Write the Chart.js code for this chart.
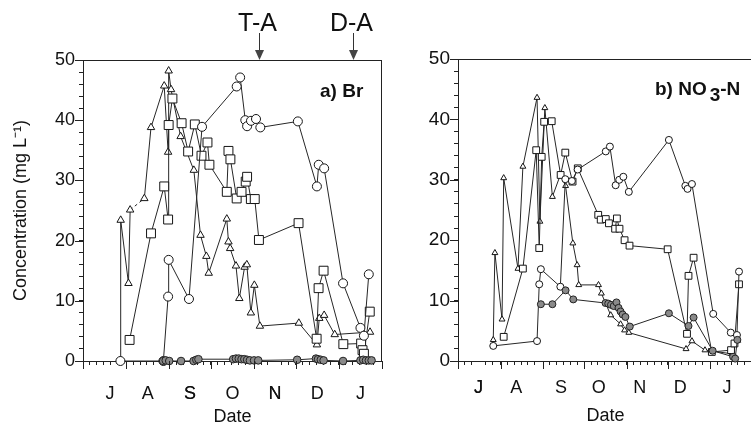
<!DOCTYPE html>
<html>
<head>
<meta charset="utf-8">
<script src="https://cdn.jsdelivr.net/npm/chart.js@4.4.1/dist/chart.umd.min.js"></script>
<style>
  html, body { margin: 0; padding: 0; background: #fff; overflow: hidden; width: 751px; height: 429px; }
  .panel { position: absolute; top: 0; }
  #panelA { left: 0; }
  #panelB { left: 400px; }
</style>
</head>
<body>
<canvas id="panelA" class="panel" width="400" height="429"></canvas>
<canvas id="panelB" class="panel" width="365" height="429"></canvas>
<script>
const FONT = '"Liberation Sans", Arial, Helvetica, sans-serif';

// Calendar axis: day 0 = 1 July, month boundaries up to 1 February
const monthStartDays = [0, 31, 62, 92, 123, 153, 184, 215];
const monthLetters = ['J', 'A', 'S', 'O', 'N', 'D', 'J'];
const brMonthLabelDays = [19.5, 46.5, 77, 107.5, 138, 168.5, 199.5];
const noMonthLabelDays = [15, 42.5, 75, 102.5, 132.5, 162, 196];
const yLabelValues = [0, 10, 20, 30, 40, 50];

// Events marked above panel a
const eventNames = ['T-A', 'D-A'];
const eventDays = [126.7, 194.3];

// ---- a) Br (mg/L) ----
const brTriDays = [26.8, 27.1, 32.7, 33.9, 44.1, 48.9, 58.4, 61.2, 61.6, 63.3, 70.2, 79.7, 84.5, 88.7, 90.4, 103.4, 104.6, 105.8, 110, 112.4, 116.2, 117.8, 120.7, 123.2, 127.2, 155.2, 168.2, 169.9, 173.4, 181, 206.4];
const brTriVals = [0, 23.4, 12.9, 25.1, 27.0, 38.8, 45.7, 34.7, 48.2, 45.1, 37.3, 31.7, 20.9, 17.4, 14.6, 23.6, 19.8, 18.7, 15.8, 10.4, 15.6, 16.0, 8.0, 12.6, 5.8, 6.3, 2.7, 7.1, 7.6, 4.4, 4.8];

const brSqDays = [33.5, 48.9, 58.4, 61.2, 61.6, 64.3, 70.9, 75.6, 80.4, 85.2, 89.5, 90.9, 103.4, 104.6, 106, 110.5, 114, 117, 118, 120.7, 123.5, 126.5, 155, 168, 169.4, 173, 187.2, 200, 201, 202, 206.2];
const brSqVals = [3.5, 21.2, 29.0, 23.5, 39.2, 43.6, 39.5, 34.8, 39.3, 34.1, 36.3, 32.6, 28.1, 34.9, 33.5, 27.0, 28.1, 29.8, 30.6, 26.9, 26.9, 20.1, 22.9, 3.7, 12.1, 15.0, 2.8, 2.9, 1.8, 1.2, 8.2];

const brCircDays = [26.9, 57.8, 61.2, 61.6, 76.2, 85.6, 110.5, 113, 116.7, 118, 120.8, 124.4, 127.5, 154.5, 168.2, 169.5, 173.4, 187, 199.5, 202, 205.5];
const brCircVals = [0, 0, 10.7, 16.8, 10.3, 38.9, 45.6, 47.1, 40.0, 39.0, 39.9, 40.2, 38.8, 39.8, 29.0, 32.6, 32.0, 12.9, 5.5, 4.2, 14.4];

const brFillDays = [57.6, 59.5, 62, 70.5, 79.5, 81.5, 83, 108, 110, 112, 114, 116, 118, 120, 123, 126, 154, 167.5, 169, 171, 173, 187, 199.5, 201.5, 203.5, 205.5, 207.5];
const brFillVals = [0, 0.1, 0, 0, 0, 0.2, 0.3, 0.3, 0.4, 0.4, 0.3, 0.3, 0.2, 0.1, 0.1, 0.1, 0.2, 0.4, 0.3, 0.2, 0.1, 0, 0.1, 0.2, 0.1, 0.1, 0.1];

// ---- b) NO3-N (mg/L) ----
const noTriDays = [25.7, 26.9, 32.1, 33.3, 43.7, 47.3, 57.6, 59.7, 63.3, 68.8, 74.6, 78.4, 83.7, 86.8, 88, 102.4, 104.5, 111.3, 118.5, 121.4, 124.5, 166.2, 170.5, 180, 199.5, 204];
const noTriVals = [3.5, 17.9, 6.9, 30.3, 15.3, 32.2, 43.6, 23.1, 41.9, 27.2, 30.8, 29.0, 19.5, 15.9, 12.6, 12.6, 11.2, 7.6, 6.1, 5.1, 4.7, 2.0, 3.3, 1.8, 1.2, 3.4];

const noSqDays = [33.3, 47.3, 57, 59.2, 61, 62.8, 68.3, 74.8, 78.2, 83.5, 87.3, 102.2, 104, 107.7, 110, 114.5, 115.8, 117.7, 121.4, 125, 152.8, 166.9, 168, 171.7, 185, 199, 201.5, 204.8];
const noSqVals = [4.0, 15.3, 34.9, 18.7, 33.8, 39.6, 39.7, 30.8, 34.5, 29.7, 31.9, 24.2, 23.4, 23.5, 22.8, 21.9, 23.6, 21.9, 20.0, 19.1, 18.5, 4.5, 14.1, 17.1, 1.5, 1.8, 2.9, 12.7];

const noCircDays = [25.7, 57.6, 59.2, 60.4, 74.6, 78.2, 83, 87.2, 107.7, 110.7, 114.9, 117.5, 120.5, 124.5, 153.7, 165.7, 167.3, 170.5, 186, 198.8, 203.3, 204.8];
const noCircVals = [2.5, 3.3, 12.7, 15.2, 12.3, 30.1, 29.8, 31.7, 34.7, 35.5, 29.1, 30.0, 30.5, 28.0, 36.6, 29.0, 28.5, 29.3, 7.8, 4.7, 4.3, 14.8];

const noFillDays = [60.4, 68.8, 78.4, 84, 107.5, 109.5, 111.5, 113.5, 115.5, 117, 118.5, 120, 122, 125.2, 153.7, 168, 171.7, 185.6, 200.5, 202, 203.6];
const noFillVals = [9.4, 9.4, 11.7, 10.2, 9.6, 9.5, 9.3, 9.1, 9.7, 8.8, 8.2, 7.7, 7.3, 5.7, 7.9, 5.8, 7.2, 1.7, 0.7, 0.4, 3.5];

// Small ticks every 5 days inside each month
function minorTickDays() {
  const out = [];
  for (let m = 0; m < monthStartDays.length - 1; m++) {
    for (let k = 0; k <= 25; k += 5) out.push(monthStartDays[m] + k);
  }
  out.push(monthStartDays[monthStartDays.length - 1]);
  return out;
}

function series(days, vals, style) {
  return Object.assign({
    data: days.map((d, i) => ({ x: d, y: vals[i] })),
    showLine: true,
    borderColor: '#262626',
    borderWidth: 1,
    pointBorderColor: '#151515',
    pointBorderWidth: 1,
    pointBackgroundColor: '#ffffff',
    clip: false
  }, style);
}

// Frame, long ticks, panel label and event arrows
const panelDecor = {
  id: 'panelDecor',
  afterDraw(chart, args, o) {
    const { ctx, chartArea: a, scales: { x, y } } = chart;
    ctx.save();
    ctx.strokeStyle = '#222';
    ctx.lineWidth = 1;
    ctx.beginPath();
    ctx.moveTo(a.left, a.top + 0.5); ctx.lineTo(a.right, a.top + 0.5);
    ctx.moveTo(a.right - 0.5, a.top); ctx.lineTo(a.right - 0.5, a.bottom);
    monthStartDays.forEach(d => {
      const px = Math.round(x.getPixelForValue(d)) + 0.5;
      ctx.moveTo(px, a.bottom); ctx.lineTo(px, a.bottom + 8);
    });
    yLabelValues.forEach(v => {
      const py = Math.round(y.getPixelForValue(v)) + 0.5;
      ctx.moveTo(a.left - 8, py); ctx.lineTo(a.left, py);
    });
    ctx.stroke();

    // panel label
    ctx.fillStyle = '#111';
    ctx.font = 'bold 19px ' + FONT;
    ctx.textBaseline = 'alphabetic';
    let cx = o.labelX;
    o.labelParts.forEach(p => {
      ctx.fillText(p.t, cx, o.labelY + (p.dy || 0));
      cx += ctx.measureText(p.t).width + (p.gap || 0);
    });

    // event arrows
    if (o.events) {
      ctx.font = '25px ' + FONT;
      ctx.textAlign = 'center';
      ctx.fillStyle = '#111';
      eventDays.forEach((d, i) => {
        const px = Math.round(x.getPixelForValue(d)) + 0.5;
        ctx.fillText(eventNames[i], px - 2, a.top - 29);
        ctx.beginPath();
        ctx.strokeStyle = '#333';
        ctx.moveTo(px, a.top - 27); ctx.lineTo(px, a.top - 9);
        ctx.stroke();
        ctx.beginPath();
        ctx.fillStyle = '#444';
        ctx.moveTo(px - 4.5, a.top - 10); ctx.lineTo(px + 4.5, a.top - 10); ctx.lineTo(px, a.top);
        ctx.closePath(); ctx.fill();
        ctx.fillStyle = '#111';
      });
    }
    ctx.restore();
  }
};

function makePanel(canvasId, cfg) {
  const labelDays = cfg.monthLabelDays;
  const tickDays = minorTickDays().concat(labelDays).sort((p, q) => p - q);
  return new Chart(document.getElementById(canvasId), {
    type: 'scatter',
    data: { datasets: cfg.datasets },
    plugins: [panelDecor],
    options: {
      responsive: false,
      animation: false,
      events: [],
      layout: { padding: { top: cfg.top, right: cfg.right, left: 0, bottom: 0 } },
      plugins: {
        legend: { display: false },
        tooltip: { enabled: false },
        panelDecor: { labelParts: cfg.labelParts, labelX: cfg.labelX, labelY: cfg.labelY, events: cfg.events }
      },
      scales: {
        x: {
          type: 'linear',
          min: 0, max: 215,
          afterFit(s) { s.height = 68; },
          afterBuildTicks(s) { s.ticks = tickDays.map(v => ({ value: v })); },
          ticks: {
            autoSkip: false, maxRotation: 0, minRotation: 0,
            padding: cfg.xPad,
            color: '#111',
            font: { family: FONT, size: 18 },
            callback: v => {
              const i = labelDays.indexOf(v);
              return i >= 0 ? monthLetters[i] : '';
            }
          },
          grid: {
            drawOnChartArea: false, tickLength: 4,
            tickColor: c => (c.tick && labelDays.indexOf(c.tick.value) >= 0) ? 'rgba(0,0,0,0)' : '#222'
          },
          border: { color: '#222', width: 1 },
          title: { display: true, text: 'Date', color: '#111', font: { family: FONT, size: 18 }, padding: { top: 0, bottom: cfg.datePad } }
        },
        y: {
          min: 0, max: 50,
          afterFit(s) { s.width = cfg.yWidth; },
          afterBuildTicks(s) {
            const t = [];
            for (let v = 0; v <= 50; v += 2) t.push({ value: v });
            s.ticks = t;
          },
          ticks: {
            autoSkip: false, padding: 4, color: '#111',
            font: { family: FONT, size: cfg.yFont },
            callback: v => (yLabelValues.indexOf(v) >= 0 ? String(v) : '')
          },
          grid: { drawOnChartArea: false, tickLength: 4, tickColor: '#222' },
          border: { color: '#222', width: 1 },
          title: cfg.yTitle ? {
            display: true, text: 'Concentration (mg L\u207B\u00B9)', color: '#111',
            font: { family: FONT, size: 18 }, padding: { top: 10, bottom: 0 }
          } : { display: false }
        }
      }
    }
  });
}

const filled = { pointStyle: 'circle', pointBackgroundColor: '#8a8a8a', pointBorderColor: '#222' };

makePanel('panelA', {
  top: 60, right: 15, yWidth: 83, yFont: 18, xPad: 18, datePad: 1,
  monthLabelDays: brMonthLabelDays, yTitle: true, events: true,
  labelParts: [{ t: 'a) Br' }], labelX: 320, labelY: 97,
  datasets: [
    series(brFillDays, brFillVals, Object.assign({ pointRadius: 3.8 }, filled)),
    series(brCircDays, brCircVals, { pointStyle: 'circle', pointRadius: 4.5 }),
    series(brSqDays, brSqVals, { pointStyle: 'rect', pointRadius: 6.3 }),
    series(brTriDays, brTriVals, {
      pointStyle: 'triangle', pointRadius: 4.3,
      segment: { borderDash: c => (c.p0DataIndex === 3 ? [3, 3] : undefined) }
    })
  ]
});

makePanel('panelB', {
  top: 59, right: 8, yWidth: 58, yFont: 19, xPad: 12, datePad: 2,
  monthLabelDays: noMonthLabelDays, yTitle: false, events: false,
  labelParts: [{ t: 'b) NO', gap: 3 }, { t: '3', dy: 6 }, { t: '-N' }], labelX: 255, labelY: 95,
  datasets: [
    series(noFillDays, noFillVals, Object.assign({ pointRadius: 3.5 }, filled)),
    series(noCircDays, noCircVals, { pointStyle: 'circle', pointRadius: 3.5 }),
    series(noSqDays, noSqVals, { pointStyle: 'rect', pointRadius: 4.8 }),
    series(noTriDays, noTriVals, { pointStyle: 'triangle', pointRadius: 3.4 })
  ]
});
</script>
</body>
</html>
